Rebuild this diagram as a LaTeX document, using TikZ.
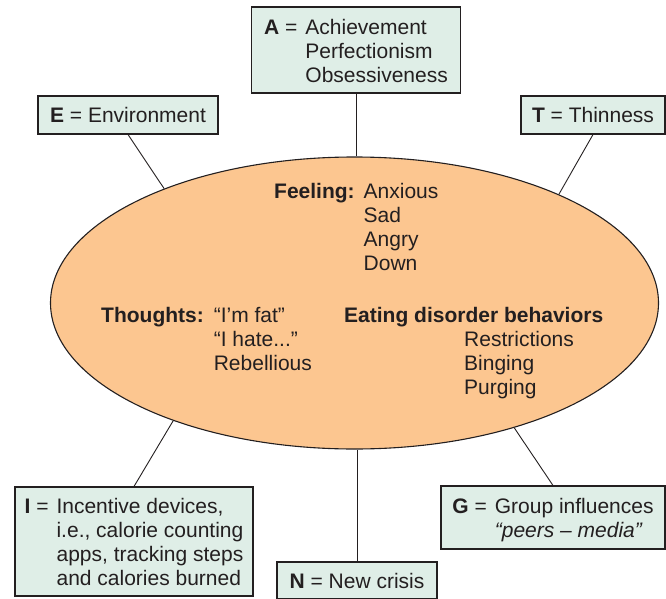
\documentclass[tikz,border=0pt]{standalone}
\usepackage{fontspec}
\setmainfont{Liberation Sans}
\usetikzlibrary{shapes.geometric}
\definecolor{Ink}{HTML}{231F20}
\definecolor{PaleMint}{HTML}{DFEEE7}
\definecolor{Peach}{HTML}{FCC690}
\newcommand{\dropdown}[1]{\raisebox{0pt}[\dimexpr\height+7pt\relax][\depth]{#1}}

\begin{document}
\begin{tikzpicture}[
  x=1pt, y=-1pt,
  every node/.style={font=\fontsize{21}{24}\selectfont, text=Ink},
  factor/.style={
    draw=Ink,
    line width=1.1pt,
    fill=PaleMint,
    inner sep=0pt,
    align=center
  },
  core/.style={
    ellipse,
    draw=Ink,
    line width=1.1pt,
    fill=Peach,
    inner sep=0pt,
    minimum width=608pt,
    minimum height=292pt
  },
  link/.style={draw=Ink, line width=0.9pt}
]
  \useasboundingbox (0,0) rectangle (666,599);

  \node[core] (core) at (354.5,303) {};

  \node[factor, minimum width=209pt, minimum height=86pt] (A) at (356,50)
    {\dropdown{\begin{tabular}{@{}l@{\hspace{8pt}}l@{}}\textbf{A} = & Achievement\\ & Perfectionism\\ & Obsessiveness\end{tabular}}};
  \node[factor, minimum width=180pt, minimum height=38pt] (E) at (128,115) {\textbf{E} = Environment};
  \node[factor, minimum width=144pt, minimum height=38pt] (T) at (593,115) {\textbf{T} = Thinness};
  \node[factor, minimum width=238pt, minimum height=109pt] (I) at (134,541.5)
    {\dropdown{\begin{tabular}{@{}l@{\hspace{8pt}}l@{}}\textbf{I} = & Incentive devices,\\ & i.e., calorie counting\\ & apps, tracking steps\\ & and calories burned\end{tabular}}};
  \node[factor, minimum width=160pt, minimum height=37pt] (N) at (357,580.5) {\textbf{N} = New crisis};
  \node[factor, minimum width=224pt, minimum height=63pt] (G) at (553,517.5)
    {\dropdown{\begin{tabular}{@{}l@{\hspace{8pt}}l@{}}\textbf{G} = & Group influences\\ & \textit{“peers – media”}\end{tabular}}};

  % text inside the ellipse
  \node[anchor=base west, inner sep=0pt] (feeling) at (274,198)
    {\begin{tabular}[t]{@{}l@{\hspace{9pt}}l@{}}\textbf{Feeling:} & Anxious\\ & Sad\\ & Angry\\ & Down\end{tabular}};
  \node[anchor=base west, inner sep=0pt] (thoughts) at (101,322)
    {\begin{tabular}[t]{@{}l@{\hspace{10pt}}l@{}}\textbf{Thoughts:} & “I’m fat”\\ & “I hate...”\\ & Rebellious\end{tabular}};
  \node[anchor=base west, inner sep=0pt] (behaviors) at (344,322)
    {\begin{tabular}[t]{@{}l@{}}\textbf{Eating disorder behaviors}\\ \hspace*{120pt}Restrictions\\ \hspace*{120pt}Binging\\ \hspace*{120pt}Purging\end{tabular}};

  \draw[link] (A.south) -- (A.south |- core.north);
  \draw[link] (E.south) -- (core.149.6);
  \draw[link] (T.south) -- (core.28);
  \draw[link] (I.north) -- (core.213.7);
  \draw[link] (N.north) -- (N.north |- core.south);
  \draw[link] (G.north) -- (core.322.5);
\end{tikzpicture}
\end{document}
